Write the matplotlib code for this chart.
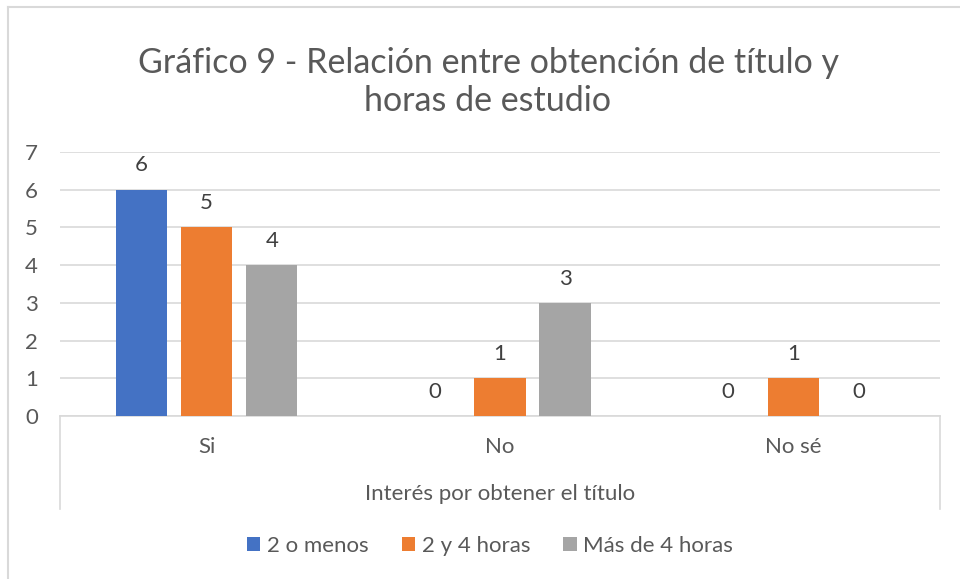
import matplotlib
matplotlib.use("Agg")
import matplotlib.pyplot as plt
import numpy as np
from matplotlib.lines import Line2D
from matplotlib.patches import Patch

plt.rcParams['font.family'] = ['Lato', 'DejaVu Sans']

categories = ["Si", "No", "No sé"]
series_names = ["2 o menos", "2 y 4 horas", "Más de 4 horas"]
s1 = [6, 0, 0]
s2 = [5, 1, 1]
s3 = [4, 3, 0]
colors = ["#4472C4", "#ED7D31", "#A5A5A5"]
yticks = [0, 1, 2, 3, 4, 5, 6, 7]

TXT = "#595959"
GRID = "#D9D9D9"
FS = 16

W, H = 960, 579
fig = plt.figure(figsize=(W / 100, H / 100), dpi=100)
fig.patch.set_facecolor("white")

def fx(px):
    return px / W

def fy(py):
    return 1 - py / H

# chart border (left and top visible)
fig.add_artist(Line2D([fx(8), fx(8)], [fy(7), 0], color=GRID, lw=1.5))
fig.add_artist(Line2D([fx(8), 1], [fy(7), fy(7)], color=GRID, lw=1.5))

ax = fig.add_axes([fx(60), fy(416), fx(940) - fx(60), fy(152) - fy(416)])
x = np.arange(len(categories))
off = 0.222
bw = 0.175
for i, (vals, c) in enumerate(zip([s1, s2, s3], colors)):
    pos = x + (i - 1) * off
    ax.bar(pos, vals, width=bw, color=c, zorder=3)
    for p, v in zip(pos, vals):
        ax.annotate(str(v), (p, v), xytext=(0, 17.5), textcoords="offset points",
                    ha="center", va="center", fontsize=FS, color="#404040")

ax.set_xlim(-0.5, 2.5)
ax.set_ylim(0, 7)
ax.set_yticks(yticks)
ax.yaxis.grid(True, color=GRID, lw=1.2)
ax.set_axisbelow(True)
for s in ["top", "right", "left"]:
    ax.spines[s].set_visible(False)
ax.spines["bottom"].set_color(GRID)
ax.spines["bottom"].set_linewidth(1.2)
ax.tick_params(axis="y", length=0, labelsize=FS, labelcolor=TXT, pad=16)
ax.tick_params(axis="x", length=0, labelsize=FS, labelcolor=TXT, pad=15)
ax.set_xticks(x)
ax.set_xticklabels(categories)

# multi-level category box sides
fig.add_artist(Line2D([fx(60), fx(60)], [fy(416), fy(509)], color=GRID, lw=1.2))
fig.add_artist(Line2D([fx(940), fx(940)], [fy(416), fy(509)], color=GRID, lw=1.2))

fig.text(fx(500), fy(494), "Interés por obtener el título", ha="center", va="center",
         fontsize=FS, color=TXT)

fig.text(fx(488), fy(82), "Gráfico 9 - Relación entre obtención de título y\nhoras de estudio",
         ha="center", va="center", fontsize=24.5, color=TXT, linespacing=1.2)

handles = [Patch(facecolor=c, edgecolor="none") for c in colors]
fig.legend(handles, series_names, loc="center", bbox_to_anchor=(fx(490), fy(546)),
           ncol=3, frameon=False, fontsize=FS, handlelength=0.6, handleheight=0.6,
           handletextpad=0.3, columnspacing=1.5, labelcolor=TXT)

fig.savefig("out.png", dpi=100)
